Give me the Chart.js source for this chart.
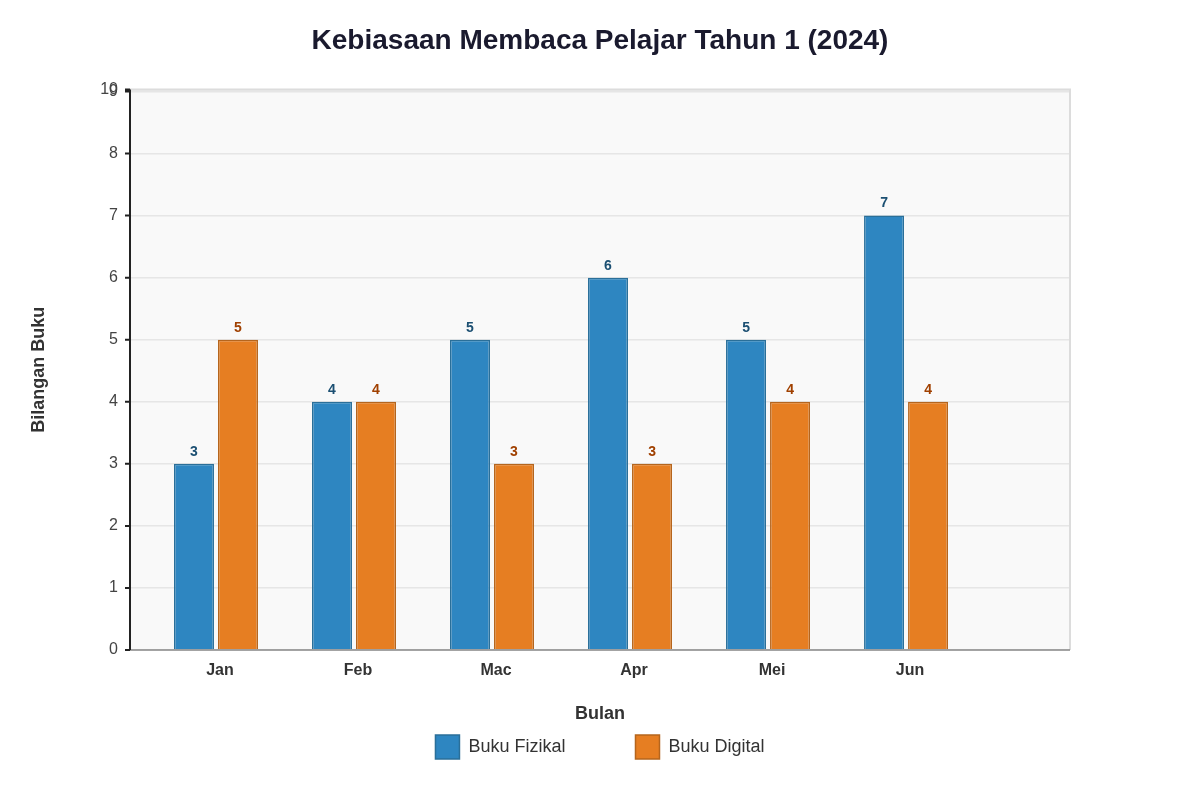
<!DOCTYPE html>
<html>
<head>
<meta charset="utf-8">
<script src="https://cdn.jsdelivr.net/npm/chart.js@4"></script>
<style>
  html, body { margin: 0; padding: 0; background: #fff; }
  #wrap { width: 1200px; height: 800px; }
</style>
</head>
<body>
<div id="wrap"><canvas id="chart" width="1200" height="800"></canvas></div>
<script>
// data
const months = ["Jan", "Feb", "Mac", "Apr", "Mei", "Jun"];
const fizikal = [3, 4, 5, 6, 5, 7];
const digital = [5, 4, 3, 3, 4, 4];
const yTicks = [0, 1, 2, 3, 4, 5, 6, 7, 8, 9, 10];
const yMax = 9.03;

const font = "'Liberation Sans', Arial, sans-serif";

// plain value labels on top of each bar
const valueLabels = {
  id: "valueLabels",
  afterDatasetsDraw(chart) {
    const ctx = chart.ctx;
    ctx.save();
    ctx.font = "bold 14px " + font;
    ctx.textAlign = "center";
    ctx.textBaseline = "bottom";
    chart.data.datasets.forEach((ds, i) => {
      chart.getDatasetMeta(i).data.forEach((bar, j) => {
        ctx.fillStyle = ds.labelColor;
        ctx.fillText(ds.data[j].y, bar.x, bar.y - 5);
      });
    });
    ctx.restore();
  }
};

// plot background + light frame on top/right, dark left axis with ticks
const plotFrame = {
  id: "plotFrame",
  beforeDraw(chart) {
    const { ctx, chartArea: a } = chart;
    ctx.save();
    ctx.fillStyle = "#f9f9f9";
    ctx.fillRect(a.left, a.top, a.right - a.left, a.bottom - a.top);
    ctx.restore();
  },
  afterDatasetsDraw(chart) {
    const { ctx, chartArea: a } = chart;
    const y = chart.scales.y;
    ctx.save();
    ctx.strokeStyle = "#dcdcdc";
    ctx.lineWidth = 2;
    ctx.beginPath();
    ctx.moveTo(a.left, a.top);
    ctx.lineTo(a.right, a.top);
    ctx.lineTo(a.right, a.bottom);
    ctx.stroke();
    ctx.strokeStyle = "#888";
    ctx.lineWidth = 1.5;
    ctx.beginPath();
    ctx.moveTo(a.left, a.bottom);
    ctx.lineTo(a.right, a.bottom);
    ctx.stroke();
    ctx.strokeStyle = "#222";
    ctx.lineWidth = 2;
    ctx.beginPath();
    ctx.moveTo(a.left, a.top);
    ctx.lineTo(a.left, a.bottom);
    y.ticks.forEach((t) => {
      const py = y.getPixelForValue(t.value);
      ctx.moveTo(a.left - 5, py);
      ctx.lineTo(a.left, py);
    });
    ctx.stroke();
    ctx.restore();
  }
};

new Chart(document.getElementById("chart"), {
  type: "bar",
  data: {
    datasets: [
      {
        label: "Buku Fizikal",
        data: fizikal.map((v, i) => ({ x: i, y: v })),
        backgroundColor: "#2e86c1",
        borderColor: "#2a6f99",
        borderWidth: 1.5,
        labelColor: "#1b4f72"
      },
      {
        label: "Buku Digital",
        data: digital.map((v, i) => ({ x: i, y: v })),
        backgroundColor: "#e67e22",
        borderColor: "#b5651d",
        borderWidth: 1.5,
        labelColor: "#a04000"
      }
    ]
  },
  options: {
    responsive: false,
    animation: false,
    categoryPercentage: 0.6377,
    barPercentage: 0.909,
    layout: { padding: { left: 0, right: 0, top: 0, bottom: 31 } },
    plugins: {
      title: {
        display: true,
        text: "Kebiasaan Membaca Pelajar Tahun 1 (2024)",
        color: "#1a1a2e",
        font: { family: font, size: 28, weight: "bold" },
        padding: { top: 24, bottom: 32 }
      },
      legend: {
        position: "bottom",
        labels: {
          color: "#333",
          font: { family: font, size: 18 },
          boxWidth: 24,
          boxHeight: 24,
          padding: 70
        }
      },
      tooltip: { enabled: false }
    },
    scales: {
      x: {
        type: "linear",
        offset: false,
        min: -0.623,
        max: 6.188,
        grid: { display: false, drawTicks: false, offset: false },
        border: { display: false },
        afterFit: (scale) => { scale.height = 15; },
        afterBuildTicks: (scale) => {
          scale.ticks = months.map((m, i) => ({ value: i }));
        },
        ticks: {
          autoSkip: false,
          maxRotation: 0,
          mirror: true, // keeps labels from being clipped by the short axis box
          padding: -30,
          labelOffset: 4,
          color: "#333",
          font: { family: font, size: 16, weight: "bold" },
          callback: (v) => months[v]
        },
        title: {
          display: true,
          text: "Bulan",
          color: "#333",
          font: { family: font, size: 18, weight: "bold" },
          padding: { top: 0, bottom: -60 }
        }
      },
      y: {
        min: 0,
        max: yMax,
        afterFit: (scale) => { scale.width = 130; },
        afterBuildTicks: (scale) => {
          scale.ticks = yTicks.map((v) => ({ value: Math.min(v, yMax) }));
        },
        grid: { color: "#e6e6e6", lineWidth: 1.5, drawTicks: false },
        border: { display: false },
        ticks: {
          autoSkip: false,
          padding: 12,
          color: "#444",
          font: { family: font, size: 16 },
          callback: (v, i) => yTicks[i]
        },
        title: {
          display: true,
          text: "Bilangan Buku",
          color: "#333",
          font: { family: font, size: 18, weight: "bold" },
          padding: { top: 28, bottom: 0 }
        }
      },
      // empty right-hand axis, only keeps the plot's right margin
      yRight: {
        type: "linear",
        position: "right",
        grid: { display: false, drawTicks: false },
        border: { display: false },
        ticks: { display: false },
        afterFit: (scale) => { scale.width = 130; }
      }
    }
  },
  plugins: [plotFrame, valueLabels]
});
</script>
</body>
</html>
